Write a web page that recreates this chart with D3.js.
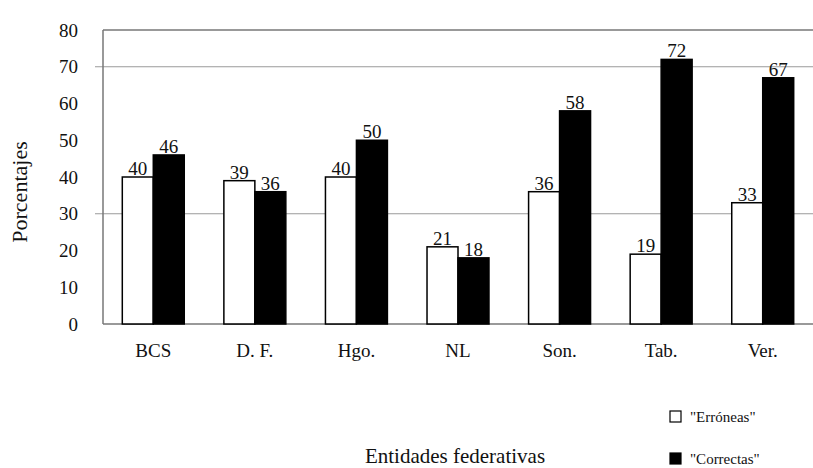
<!DOCTYPE html>
<html>
<head>
<meta charset="utf-8">
<script src="https://cdn.jsdelivr.net/npm/d3@7"></script>
<style>
  body { margin: 0; background: #fff; }
  text { font-family: "Liberation Serif", "DejaVu Serif", serif; fill: #111; }
</style>
</head>
<body>
<script>
// data
const entidades = ["BCS", "D. F.", "Hgo.", "NL", "Son.", "Tab.", "Ver."];
const erroneas = [40, 39, 40, 21, 36, 19, 33];
const correctas = [46, 36, 50, 18, 58, 72, 67];
const yTicks = [0, 10, 20, 30, 40, 50, 60, 70, 80];
const gridValues = [30, 70];
const seriesNames = ["\"Erróneas\"", "\"Correctas\""];
const seriesFill = ["#fff", "#000"];

const width = 813, height = 468;
const svg = d3.select("body").append("svg")
    .attr("width", width)
    .attr("height", height);

let yScale = d3.scaleLinear().domain([0, 80]).range([324, 30]);
let xScale = d3.scaleBand()
    .domain(entidades)
    .range([103, 813])
    .paddingInner(0.39)
    .paddingOuter(0.19);
let subScale = d3.scaleBand()
    .domain([0, 1])
    .range([0, xScale.bandwidth()]);

// grid lines (only 30 and 70 in the original)
svg.append("g").selectAll("line")
    .data(gridValues)
    .enter()
    .append("line")
        .attr("x1", 95).attr("x2", width)
        .attr("y1", d => yScale(d)).attr("y2", d => yScale(d))
        .attr("stroke", "#9a9a9a")
        .attr("stroke-width", 1.2);

// frame: top, left, bottom
let frame = svg.append("g").attr("stroke", "#777").attr("stroke-width", 1.5);
frame.append("line").attr("x1", 103).attr("x2", width).attr("y1", yScale(80)).attr("y2", yScale(80));
frame.append("line").attr("x1", 103).attr("x2", 103).attr("y1", yScale(80)).attr("y2", yScale(0));
frame.append("line").attr("x1", 103).attr("x2", width).attr("y1", yScale(0)).attr("y2", yScale(0));

// y axis labels
let yAxis = d3.axisLeft(yScale).tickValues(yTicks).tickSize(0).tickPadding(25);
svg.append("g")
    .attr("transform", "translate(103,0)")
    .call(yAxis)
    .call(g => g.select(".domain").remove())
    .selectAll("text")
        .style("font-family", "'Liberation Serif', serif")
        .style("font-size", "19px")
        .attr("fill", "#111");

// bars
const seriesData = [erroneas, correctas];
seriesData.forEach(function(values, s) {
    let g = svg.append("g");
    g.selectAll("rect")
        .data(values)
        .enter()
        .append("rect")
            .attr("x", (d, i) => xScale(entidades[i]) + subScale(s))
            .attr("y", d => yScale(d))
            .attr("width", subScale.bandwidth())
            .attr("height", d => yScale(0) - yScale(d))
            .attr("fill", seriesFill[s])
            .attr("stroke", "#000")
            .attr("stroke-width", 1.5);
    g.selectAll("text")
        .data(values)
        .enter()
        .append("text")
            .attr("x", (d, i) => xScale(entidades[i]) + subScale(s) + subScale.bandwidth() / 2)
            .attr("y", d => yScale(d) - 2)
            .attr("text-anchor", "middle")
            .style("font-size", "19px")
            .text(d => d);
});

// category labels
svg.append("g").selectAll("text")
    .data(entidades)
    .enter()
    .append("text")
        .attr("x", d => xScale(d) + xScale.bandwidth() / 2)
        .attr("y", 357)
        .attr("text-anchor", "middle")
        .style("font-size", "19px")
        .text(d => d);

// axis titles
svg.append("text")
    .attr("transform", "translate(27,192) rotate(-90)")
    .attr("text-anchor", "middle")
    .style("font-size", "22px")
    .text("Porcentajes");

svg.append("text")
    .attr("x", 455)
    .attr("y", 463)
    .attr("text-anchor", "middle")
    .style("font-size", "21px")
    .text("Entidades federativas");

// legend
let legend = svg.append("g").selectAll("g")
    .data(seriesNames)
    .enter()
    .append("g")
        .attr("transform", (d, i) => `translate(670, ${417 + i * 42})`);
legend.append("rect")
    .attr("x", 0).attr("y", -6)
    .attr("width", 11).attr("height", 11)
    .attr("fill", (d, i) => seriesFill[i])
    .attr("stroke", "#000")
    .attr("stroke-width", 1.2);
legend.append("text")
    .attr("x", 20)
    .attr("y", 5)
    .style("font-size", "15px")
    .text(d => d);
</script>
</body>
</html>
